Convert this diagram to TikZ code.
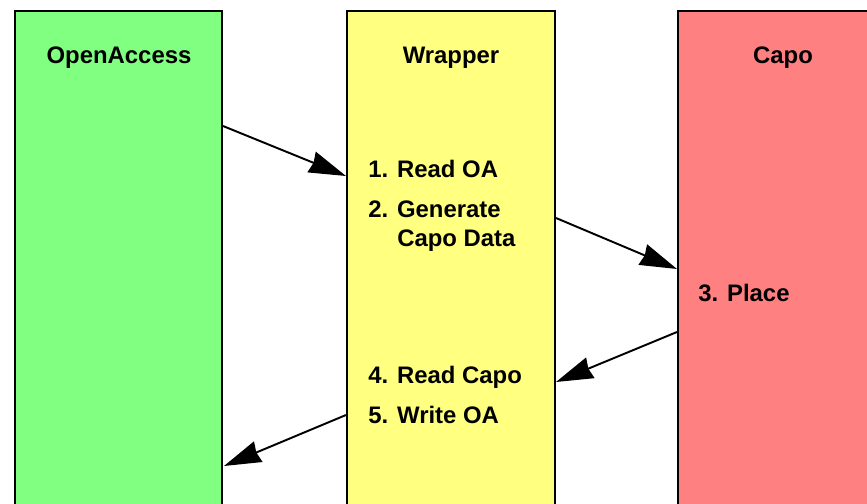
\documentclass[tikz,border=0pt]{standalone}
\usepackage{fontspec}
\setmainfont{Liberation Sans}
\usetikzlibrary{arrows.meta}
\definecolor{oagreen}{HTML}{80FF80}
\definecolor{wrapyellow}{HTML}{FFFF80}
\definecolor{capored}{HTML}{FF8080}
\tikzset{column/.style={draw=black, line width=1.1pt},
  title/.style={anchor=base, inner sep=0pt, font=\bfseries\fontsize{13.6}{16}\selectfont},
  item/.style={anchor=base west, inner sep=0pt, font=\bfseries\fontsize{13.6}{16}\selectfont},
  flow/.style={-{Stealth[length=0.74cm,width=0.44cm,inset=0.04cm]}, line width=1.1pt}}

\begin{document}
\begin{tikzpicture}[x=0.02cm,y=-0.02cm]
\useasboundingbox (0,0) rectangle (867,504);
\clip (0,0) rectangle (867,504);
\filldraw[column, fill=oagreen] (15,11) rectangle (222,530);
\filldraw[column, fill=wrapyellow] (347,11) rectangle (555,530);
\filldraw[column, fill=capored] (678,11) rectangle (900,530);
\node[title] (oa) at (119,63) {OpenAccess};
\node[title] (wrap) at (451,63) {Wrapper};
\node[title] (capo) at (783,63) {Capo};
\node[item] (s1) at (368,177) {1. Read OA};
\node[item] (s2) at (368,217) {2. Generate};
\node[item] (s2b) at (397,246) {Capo Data};
\node[item] (s3) at (698,301) {3. Place};
\node[item] (s4) at (368,383) {4. Read Capo};
\node[item] (s5) at (368,423) {5. Write OA};
% arrow ends on the column edges
\coordinate (oaout) at (223,126);
\coordinate (wrapin) at (346,176);
\coordinate (wrapout) at (556,218);
\coordinate (capoin) at (677,269);
\coordinate (capoout) at (677,332);
\coordinate (wrapback) at (556,382);
\coordinate (wrapret) at (346,415);
\coordinate (oain) at (224,466);
\draw[flow] (oaout) -- (wrapin);
\draw[flow] (wrapout) -- (capoin);
\draw[flow] (capoout) -- (wrapback);
\draw[flow] (wrapret) -- (oain);
\end{tikzpicture}
\end{document}
